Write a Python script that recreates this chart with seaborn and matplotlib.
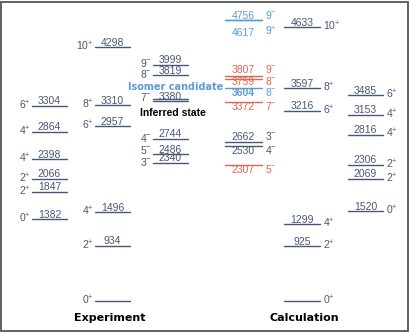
import matplotlib
matplotlib.use("Agg")
import matplotlib.pyplot as plt
import numpy as np
import pandas as pd
import seaborn as sns
from matplotlib.patches import Rectangle

# ---------------- data ----------------
exp_gsb_E = [0, 934, 1496, 2957, 3310, 4298]
exp_gsb_J = ["0+", "2+", "4+", "6+", "8+", "10+"]
exp_side_E = [1382, 1847, 2066, 2398, 2864, 3304]
exp_side_J = ["0+", "2+", "2+", "4+", "4+", "6+"]
exp_neg_E = [2340, 2486, 2744, 3380, 3819, 3999]
exp_neg_J = ["3-", "5-", "4-", "7-", "8-", "9-"]

calc_gsb_E = [0, 925, 1299, 3216, 3597, 4633]
calc_gsb_J = ["0+", "2+", "4+", "6+", "8+", "10+"]
calc_side_E = [1520, 2069, 2306, 2816, 3153, 3485]
calc_side_J = ["0+", "2+", "2+", "4+", "4+", "6+"]
calc_neg_E = [2307, 2530, 2662, 3372, 3604, 3759, 3807, 4617, 4756]
calc_neg_J = ["5-", "4-", "3-", "7-", "8-", "8-", "9-", "9+", "9-"]
calc_neg_kind = ["red", "dark", "dark", "red", "blue", "red", "red", "blue", "blue"]

titles = ["Experiment", "Calculation"]
isomer_text = "Isomer candidate"
inferred_text = "Inferred state"

# ---------------- style / layout ----------------
COL = {"dark": "#4b5677", "red": "#e2654f", "blue": "#5b9bd5"}
PX = 0.059          # px per keV
Y0 = 300.7          # pixel row of E = 0
W, H = 410, 334

# display shifts (keV) and label baselines (px rel. to line) for the crowded columns
calc_neg_shift = [0, 95, 30, 0, 0, 0, 0, 135, 0]
calc_neg_dy = [-8, -8, 1.5, -8.5, -7.5, -6, 3.5, -15.5, 1.5]
exp_neg_spin_dy = [-3, 0, -2.7, 0.5, -3, -2]

sns.set_theme(style="white")
plt.rcParams["font.family"] = ["Liberation Sans", "DejaVu Sans"]
plt.rcParams["mathtext.fontset"] = "custom"
plt.rcParams["mathtext.rm"] = "Liberation Sans"
plt.rcParams["mathtext.it"] = "Liberation Sans:italic"
plt.rcParams["mathtext.bf"] = "Liberation Sans:bold"

fig = plt.figure(figsize=(W / 100, H / 100), dpi=100)
ax = fig.add_axes([0, 0, 1, 1])


def spin(j):
    num, s = j[:-1], j[-1]
    return num + "$^{" + ("+" if s == "+" else "-") + "}$"


columns = [
    # energies, spins, kinds, x0, x1, spin side, shifts, label dy, spin dy
    (exp_side_E, exp_side_J, ["dark"] * 6, 32, 67, "left", None, None, None),
    (exp_gsb_E, exp_gsb_J, ["dark"] * 6, 95, 130, "left", None, None, None),
    (exp_neg_E, exp_neg_J, ["dark"] * 6, 153, 188, "left", None, None, exp_neg_spin_dy),
    (calc_neg_E, calc_neg_J, calc_neg_kind, 225, 262, "right", calc_neg_shift, calc_neg_dy, None),
    (calc_gsb_E, calc_gsb_J, ["dark"] * 6, 284, 320, "right", None, None, None),
    (calc_side_E, calc_side_J, ["dark"] * 6, 348, 383, "right", None, None, None),
]

rows = []
lid = 0
for ci, (E, J, K, x0, x1, side, shift, dys, sdys) in enumerate(columns):
    for i, (e, j, k) in enumerate(zip(E, J, K)):
        ed = e + (shift[i] if shift else 0)
        rows.append(dict(lid=lid, x=x0, E=ed, kind=k))
        rows.append(dict(lid=lid, x=x1, E=ed, kind=k))
        lid += 1
        if e == 3380:  # double line for the inferred state
            rows.append(dict(lid=lid, x=x0, E=ed + 36, kind=k))
            rows.append(dict(lid=lid, x=x1, E=ed + 36, kind=k))
            lid += 1
        c = COL[k]
        xm = (x0 + x1) / 2
        bold = (e == 3604)
        if side == "left":
            if e > 0:
                ax.annotate(str(e), (xm, ed), xytext=(0, 1.5), textcoords="offset pixels",
                            ha="center", va="baseline", fontsize=7.5, color=c)
            sdy = sdys[i] if sdys else -3.5
            ax.annotate(spin(j), (x0, ed), xytext=(-1.5, sdy), textcoords="offset pixels",
                        ha="right", va="baseline", fontsize=7.5, color=c)
        else:
            dy = dys[i] if dys else 1.5
            if e > 0:
                ax.annotate(str(e), (xm, ed), xytext=(0, dy), textcoords="offset pixels",
                            ha="center", va="baseline", fontsize=7.5, color=c,
                            fontweight="bold" if bold else "normal")
            sdy = dy if dys else -3.5
            ax.annotate(spin(j), (x1, ed), xytext=(3, sdy), textcoords="offset pixels",
                        ha="left", va="baseline", fontsize=7.5, color=c)

df = pd.DataFrame(rows)
sns.lineplot(data=df, x="x", y="E", units="lid", estimator=None, hue="kind",
             palette=COL, legend=False, sort=False, linewidth=1.0, ax=ax)
ax.set_xlim(0, W)
ax.set_ylim((Y0 - H) / PX, Y0 / PX)
ax.axis("off")

# annotations for special states
ax.annotate(isomer_text, (225, 3604), xytext=(-2, 1.5), textcoords="offset pixels",
            ha="right", va="center", fontsize=7, fontweight="bold", color=COL["blue"],
            family="DejaVu Sans")
ax.annotate(inferred_text, (172.5, 3380), xytext=(0, -12), textcoords="offset pixels",
            ha="center", va="center", fontsize=7.5, fontweight="bold", color="black")

# titles
ty = (Y0 - 318) / PX
ax.text(110, ty, titles[0], ha="center", va="center", fontsize=8, fontweight="bold",
        color="black", family="DejaVu Sans")
ax.text(304.5, ty, titles[1], ha="center", va="center", fontsize=8, fontweight="bold",
        color="black", family="DejaVu Sans")

# frame
fig.patches.append(Rectangle((1.5 / W, 3.5 / H), 407 / W, 329 / H, transform=fig.transFigure,
                             fill=False, lw=1.3, ec="#555555"))

fig.savefig("out.png", dpi=100)
